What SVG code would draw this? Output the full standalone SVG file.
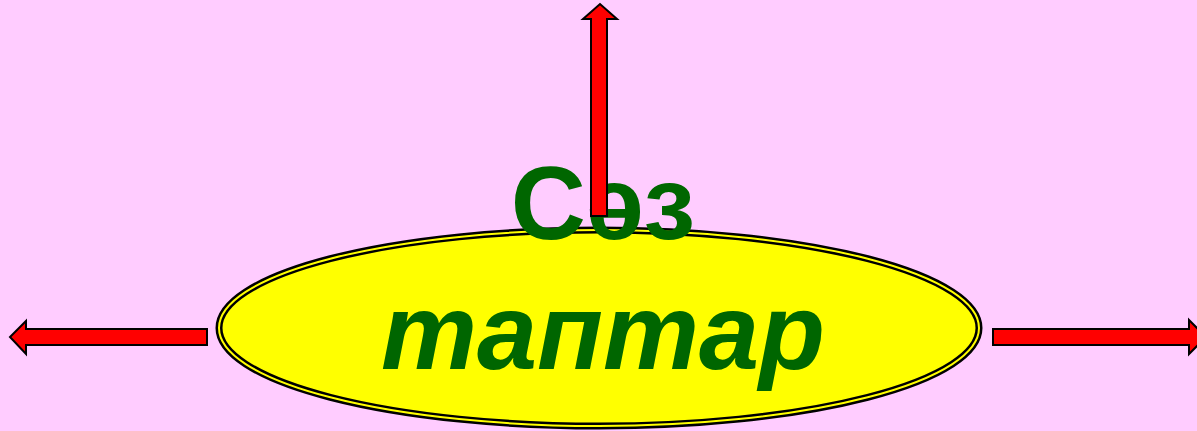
<svg xmlns="http://www.w3.org/2000/svg" width="1197" height="431" viewBox="0 0 1197 431">
<style>
.arr{fill:#FF0000;stroke:#000;stroke-width:2;stroke-linejoin:miter}
.t{font-family:"Liberation Sans",Arial,sans-serif;font-weight:bold;fill:#006600;text-anchor:middle}
</style>
<rect width="1197" height="431" fill="#FFCCFF"/>
<g id="node-ellipse">
<ellipse cx="599" cy="328" rx="380" ry="98" fill="#FFFF00" stroke="#000" stroke-width="7"/>
<ellipse cx="599" cy="328" rx="380" ry="98" fill="none" stroke="#FFFF00" stroke-width="2"/>
<text class="t" x="603" y="369" font-size="108" font-style="italic">таптар</text>
</g>
<g id="node-title">
<text class="t" x="603" y="239" font-size="104">Сәз</text>
</g>
<g id="connectors">
<path class="arr" d="M591,216 L591,19 L583,19 L600,4 L617,19 L607,19 L607,216 Z"/>
<path class="arr" d="M207,329 L26,329 L26,321 L10,337 L26,354 L26,345 L207,345 Z"/>
<path class="arr" d="M993,329 L1189,329 L1189,320 L1206,337 L1189,354 L1189,345 L993,345 Z"/>
</g>
</svg>
